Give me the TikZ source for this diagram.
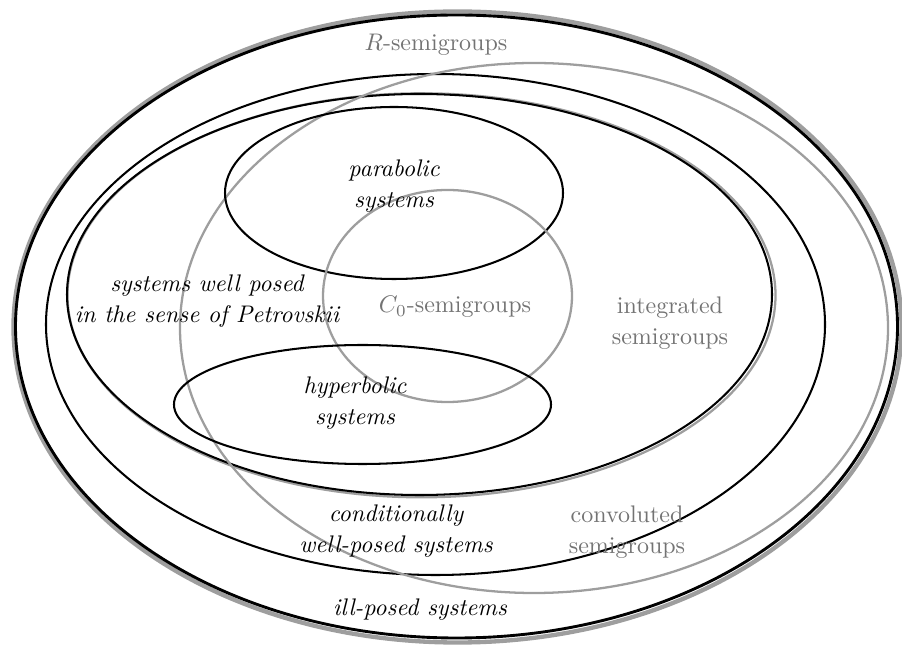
\documentclass[tikz,border=0pt]{standalone}
\usetikzlibrary{shapes.geometric}
\definecolor{linegray}{gray}{0.62}
\definecolor{textgray}{gray}{0.45}
\tikzset{
  blk/.style={draw=black, line width=0.85pt},
  gry/.style={draw=linegray, line width=0.95pt},
  gryouter/.style={draw=linegray, line width=1.8pt},
  lbl/.style={align=center, font={\fontsize{10}{13}\selectfont\itshape}, inner sep=0pt},
  glbl/.style={align=center, font={\fontsize{10}{13}\selectfont}, text=textgray, inner sep=0pt},
}
\begin{document}
\begin{tikzpicture}[x=0.4167pt, y=-0.4167pt]
\useasboundingbox (0,0) rectangle (902,648);
% outer R-semigroups (gray) and ill-posed (black)
\draw[gryouter] (457.5,327) ellipse [x radius=444, y radius=315.5];
\draw[blk, line width=1.2pt] (456.5,326.5) ellipse [x radius=441, y radius=311.5];
% conditionally well-posed
\draw[blk] (435.5,324.5) ellipse [x radius=389.5, y radius=250.5];
% integrated semigroups (gray) and Petrovskii (black)
\draw[gry] (421.5,295.3) ellipse [x radius=354, y radius=202];
\draw[blk] (419.5,294.5) ellipse [x radius=352.5, y radius=200.5];
% convoluted semigroups
\draw[gry] (534,328) ellipse [x radius=354, y radius=265];
% parabolic
\draw[blk] (394,193) ellipse [x radius=169, y radius=86];
% C0
\draw[gry] (447.5,296) ellipse [x radius=124.5, y radius=106];
% hyperbolic
\draw[blk] (362.5,404.5) ellipse [x radius=188.5, y radius=59.5];
% labels
\node[glbl] (rsg) at (436,45) {$R$-semigroups};
\node[lbl] (par) at (394,186) {parabolic\\systems};
\node[lbl] (pet) at (207,301) {systems well posed\\in the sense of Petrovskii};
\node[glbl] (czero) at (455,307) {$C_0$-semigroups};
\node[glbl] (integ) at (670,323) {integrated\\semigroups};
\node[lbl] (hyp) at (355,403) {hyperbolic\\systems};
\node[lbl] (cond) at (396,531) {conditionally\\well-posed systems};
\node[glbl] (conv) at (627,532) {convoluted\\semigroups};
\node[lbl] (ill) at (420,610) {ill-posed systems};
\end{tikzpicture}
\end{document}
